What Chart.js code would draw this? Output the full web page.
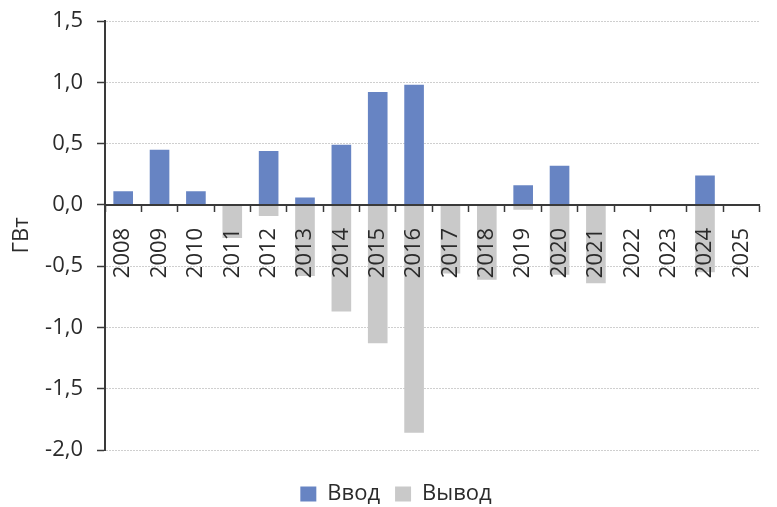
<!DOCTYPE html>
<html>
<head>
<meta charset="utf-8">
<script src="https://cdn.jsdelivr.net/npm/chart.js@4/dist/chart.umd.min.js"></script>
<style>
  html, body { margin: 0; padding: 0; background: #fff; }
  #wrap { width: 777px; height: 507px; position: relative; }
</style>
</head>
<body>
<div id="wrap"><canvas id="c"></canvas></div>
<script>
// Years on the category axis
const years = ['2008','2009','2010','2011','2012','2013','2014','2015','2016',
               '2017','2018','2019','2020','2021','2022','2023','2024','2025'];
// Commissioned capacity, GW
const vvod = [0.11, 0.45, 0.11, null, 0.44, 0.06, 0.49, 0.92, 0.98,
              null, null, 0.16, 0.32, null, null, null, 0.24, null];
// Decommissioned capacity, GW
const vyvod = [null, null, null, -0.27, -0.09, -0.58, -0.87, -1.13, -1.86,
               -0.56, -0.61, -0.04, -0.57, -0.64, null, null, -0.55, null];
// Value axis range
const yMin = -2.0, yMax = 1.5, yStep = 0.5;

const FONT = "'Open Sans', 'DejaVu Sans', sans-serif";
const TEXT = '#2b2b2b';
const AXIS = '#3a3a3a';

new Chart(document.getElementById('c'), {
  type: 'bar',
  data: {
    labels: years,
    datasets: [
      { label: 'Ввод',  data: vvod,  backgroundColor: '#6784c3', borderWidth: 0 },
      { label: 'Вывод', data: vyvod, backgroundColor: '#c9c9c9', borderWidth: 0 }
    ]
  },
  options: {
    responsive: true,
    maintainAspectRatio: false,
    animation: false,
    categoryPercentage: 1,
    barPercentage: 0.54,
    layout: { padding: { left: 24, right: 9, top: 21, bottom: -8 } },
    plugins: {
      tooltip: { enabled: false },
      legend: {
        position: 'bottom',
        title: {
          display: true,
          text: '',
          font: { family: FONT, size: 10 },
          padding: { top: 6, bottom: 0 }
        },
        labels: {
          font: { family: FONT, size: 22 },
          color: TEXT,
          boxWidth: 16,
          boxHeight: 15,
          padding: 15
        }
      }
    },
    scales: {
      x: {
        stacked: true,
        position: { y: 0 },
        grid: {
          display: true,
          drawOnChartArea: false,
          drawTicks: true,
          // long tick slot keeps the year labels clear of the zero line,
          // the dash draws only the short visible mark
          tickLength: 14,
          tickBorderDash: [6, 40],
          tickColor: AXIS,
          tickWidth: 1.5,
          offset: true
        },
        border: { display: true, color: AXIS, width: 2, z: 2 },
        ticks: {
          z: 1,
          minRotation: 90,
          maxRotation: 90,
          autoSkip: false,
          padding: 9,
          color: TEXT,
          font: { family: FONT, size: 22 }
        }
      },
      y: {
        stacked: true,
        min: yMin,
        max: yMax,
        afterFit: (s) => { s.width = 81; },
        ticks: {
          stepSize: yStep,
          padding: 14,
          color: TEXT,
          font: { family: FONT, size: 22, lineHeight: 0.6 },
          callback: (v) => v.toFixed(1).replace('.', ',')
        },
        grid: {
          color: '#cfcfcf',
          lineWidth: 1,
          drawTicks: true,
          tickLength: 8,
          tickColor: AXIS,
          tickWidth: 1.5,
          tickBorderDash: []
        },
        border: { display: true, color: AXIS, width: 2, dash: [2, 1] },
        title: {
          display: true,
          text: 'ГВт',
          color: TEXT,
          font: { family: FONT, size: 22 },
          padding: { top: -15, bottom: 0 }
        }
      }
    }
  }
});
</script>
</body>
</html>
